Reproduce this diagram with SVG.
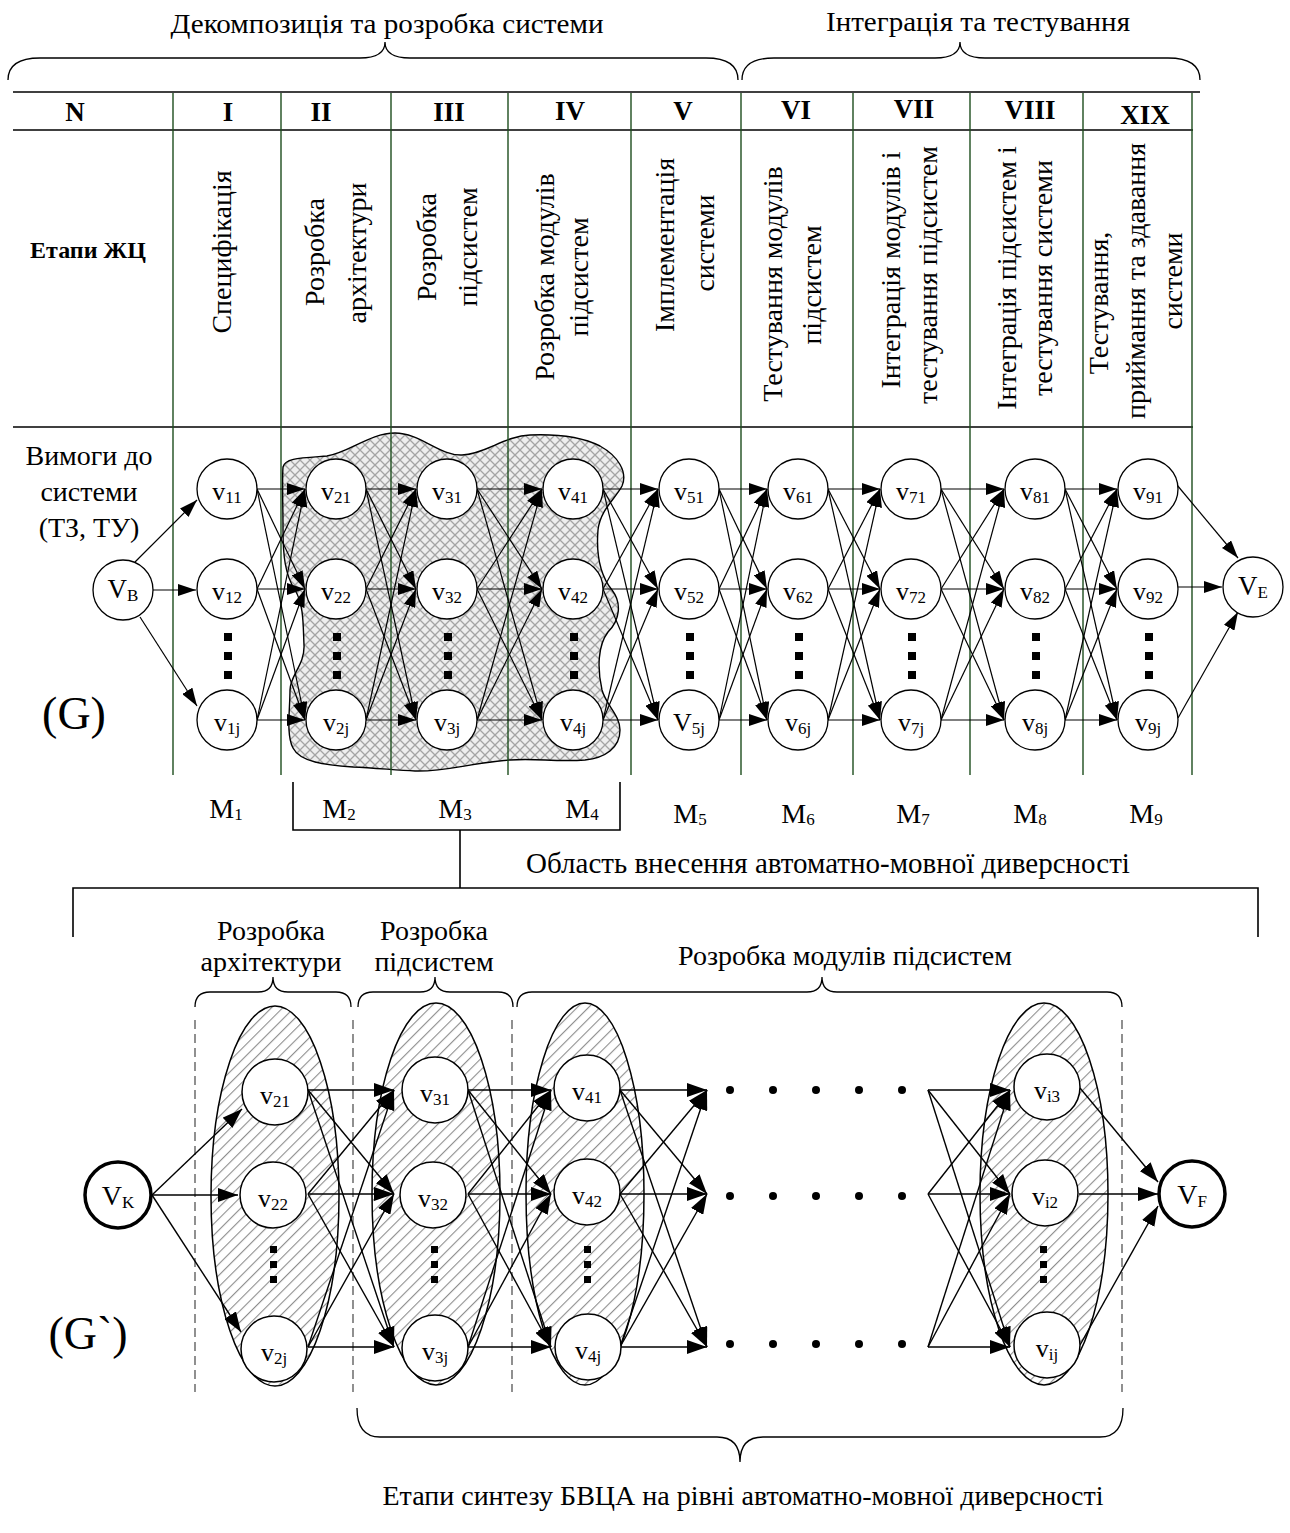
<svg xmlns="http://www.w3.org/2000/svg" width="1290" height="1533" viewBox="0 0 1290 1533">
<style>
text{font-family:"Liberation Serif","Times New Roman",serif;fill:#000}
.t{font-size:28px}
.tm{font-size:28px;text-anchor:middle}
.h{font-size:27px;font-weight:bold;text-anchor:middle}
.l{font-size:26px;text-anchor:middle}
.s{font-size:17px}
.hl{stroke:#000;stroke-width:1.6;fill:none}
.gl{stroke:#1d4d1d;stroke-width:1.4}
.e{stroke:#000;stroke-width:1.2;fill:none;marker-end:url(#ar)}
.e2{stroke:#000;stroke-width:1.4;fill:none;marker-end:url(#ar2)}
.n circle{fill:#fff;stroke:#000;stroke-width:1.3}
.n2 circle{fill:#fff;stroke:#000;stroke-width:1.5}
.nb circle{fill:#fff;stroke:#000;stroke-width:3.5}
.br{fill:none;stroke:#000;stroke-width:1.3}
.dl{stroke:#555;stroke-width:1.3;stroke-dasharray:9,5}
.el{fill:url(#hs);stroke:#000;stroke-width:1.5}
</style>
<defs>
<marker id="ar" markerWidth="18" markerHeight="12" refX="18" refY="6" orient="auto" markerUnits="userSpaceOnUse"><path d="M0,0 L18,6 L0,12 z" fill="#000"/></marker>
<marker id="ar2" markerWidth="20" markerHeight="14" refX="20" refY="7" orient="auto" markerUnits="userSpaceOnUse"><path d="M0,0 L20,7 L0,14 z" fill="#000"/></marker>
<pattern id="xh" width="10" height="10" patternUnits="userSpaceOnUse"><rect width="10" height="10" fill="#eeeeee"/><path d="M0,0L10,10M10,0L0,10" stroke="#a4a4a4" stroke-width="1.3"/></pattern>
<pattern id="hs" width="8" height="8" patternUnits="userSpaceOnUse" patternTransform="rotate(45)"><rect width="8" height="8" fill="#fff"/><line x1="0" y1="0" x2="0" y2="8" stroke="#8e8e8e" stroke-width="2.2"/></pattern>
</defs>

<!-- top braces -->
<g id="top-labels">
<text class="tm" x="387" y="33" textLength="433" lengthAdjust="spacingAndGlyphs">Декомпозиція та розробка системи</text>
<text class="tm" x="978" y="31" textLength="304" lengthAdjust="spacingAndGlyphs">Інтеграція та тестування</text>
<path class="br" d="M8,80 Q8,58 40,58 L360,58 Q385,58 385,42 Q385,58 410,58 L706,58 Q738,58 738,80"/>
<path class="br" d="M742,80 Q742,58 774,58 L935,58 Q960,58 960,42 Q960,58 985,58 L1168,58 Q1200,58 1200,80"/>
</g>

<!-- blob -->
<path id="blob" d="M283,467 C285,458 300,458 327,456 C350,452 370,433 395,433 C420,433 440,456 462,455 C485,454 505,436 530,435 C555,434 580,436 600,446 C618,456 628,472 622,486 C616,498 600,510 598,530 C596,555 600,575 612,590 C622,603 620,620 608,632 C598,645 597,668 602,690 C606,705 620,715 620,730 C620,748 605,758 585,760 C555,762 535,758 510,760 C470,763 445,772 415,771 C395,770 375,768 353,767 C325,765 300,762 293,748 C286,735 290,710 290,690 C290,675 305,665 304,645 C303,625 304,605 295,590 C285,575 283,555 283,530 C283,505 282,480 283,467 Z" fill="url(#xh)" stroke="#000" stroke-width="1.4"/>

<!-- table -->
<g id="table">
<line class="hl" x1="13" y1="92" x2="1200" y2="92"/>
<line class="hl" x1="13" y1="130" x2="1193" y2="130"/>
<line class="hl" x1="13" y1="427" x2="1193" y2="427"/>
<line class="gl" x1="173" y1="93" x2="173" y2="775"/>
<line class="gl" x1="281" y1="93" x2="281" y2="775"/>
<line class="gl" x1="391" y1="93" x2="391" y2="775"/>
<line class="gl" x1="508" y1="93" x2="508" y2="775"/>
<line class="gl" x1="631" y1="93" x2="631" y2="775"/>
<line class="gl" x1="741" y1="93" x2="741" y2="775"/>
<line class="gl" x1="853" y1="93" x2="853" y2="775"/>
<line class="gl" x1="970" y1="93" x2="970" y2="775"/>
<line class="gl" x1="1083" y1="93" x2="1083" y2="775"/>
<line class="gl" x1="1192" y1="93" x2="1192" y2="775"/>
<text class="h" x="75" y="121">N</text>
<text class="h" x="228" y="121">I</text>
<text class="h" x="321" y="121">II</text>
<text class="h" x="449" y="121">III</text>
<text class="h" x="570" y="120">IV</text>
<text class="h" x="683" y="120">V</text>
<text class="h" x="796" y="119">VI</text>
<text class="h" x="914" y="118">VII</text>
<text class="h" x="1030" y="119">VIII</text>
<text class="h" x="1145" y="124">XIX</text>
<text x="88" y="258" style="font-size:24px;font-weight:bold;text-anchor:middle">Етапи ЖЦ</text>
<text class="tm" transform="translate(231,252) rotate(-90)">Специфікація</text>
<text class="tm" transform="translate(324,252) rotate(-90)">Розробка</text>
<text class="tm" transform="translate(366,253) rotate(-90)">архітектури</text>
<text class="tm" transform="translate(436,247) rotate(-90)">Розробка</text>
<text class="tm" transform="translate(477,247) rotate(-90)">підсистем</text>
<text class="tm" transform="translate(554,277) rotate(-90)">Розробка модулів</text>
<text class="tm" transform="translate(588,277) rotate(-90)">підсистем</text>
<text class="tm" transform="translate(674,245) rotate(-90)">Імплементація</text>
<text class="tm" transform="translate(714,243) rotate(-90)">системи</text>
<text class="tm" transform="translate(782,284) rotate(-90)">Тестування модулів</text>
<text class="tm" transform="translate(821,285) rotate(-90)">підсистем</text>
<text class="tm" transform="translate(900,270) rotate(-90)">Інтеграція модулів і</text>
<text class="tm" transform="translate(937,275) rotate(-90)">тестування підсистем</text>
<text class="tm" transform="translate(1016,278) rotate(-90)">Інтеграція підсистем і</text>
<text class="tm" transform="translate(1052,278) rotate(-90)">тестування системи</text>
<text class="tm" transform="translate(1108,303) rotate(-90)">Тестування,</text>
<text class="tm" transform="translate(1145,281) rotate(-90)">приймання та здавання</text>
<text class="tm" transform="translate(1182,281) rotate(-90)">системи</text>
</g>

<g id="req-label">
<text class="tm" x="89" y="465">Вимоги до</text>
<text class="tm" x="89" y="501">системи</text>
<text class="tm" x="89" y="537">(ТЗ, ТУ)</text>
<text x="74" y="729" style="font-size:46px;text-anchor:middle">(G)</text>
</g>

<!-- connectors G -->
<g id="edges-G">
<line class="e" x1="135" y1="562" x2="197" y2="500"/>
<line class="e" x1="153" y1="590" x2="196" y2="590"/>
<line class="e" x1="140" y1="617" x2="197" y2="706"/>

<line class="e" x1="257" y1="489" x2="305" y2="489"/>
<line class="e" x1="257" y1="489" x2="305" y2="589"/>
<line class="e" x1="257" y1="489" x2="305" y2="720"/>
<line class="e" x1="257" y1="589" x2="305" y2="489"/>
<line class="e" x1="257" y1="589" x2="305" y2="589"/>
<line class="e" x1="257" y1="589" x2="305" y2="720"/>
<line class="e" x1="257" y1="720" x2="305" y2="489"/>
<line class="e" x1="257" y1="720" x2="305" y2="589"/>
<line class="e" x1="257" y1="720" x2="305" y2="720"/>

<line class="e" x1="366" y1="489" x2="416" y2="489"/>
<line class="e" x1="366" y1="489" x2="416" y2="589"/>
<line class="e" x1="366" y1="489" x2="416" y2="720"/>
<line class="e" x1="366" y1="589" x2="416" y2="489"/>
<line class="e" x1="366" y1="589" x2="416" y2="589"/>
<line class="e" x1="366" y1="589" x2="416" y2="720"/>
<line class="e" x1="366" y1="720" x2="416" y2="489"/>
<line class="e" x1="366" y1="720" x2="416" y2="589"/>
<line class="e" x1="366" y1="720" x2="416" y2="720"/>

<line class="e" x1="477" y1="489" x2="542" y2="489"/>
<line class="e" x1="477" y1="489" x2="542" y2="589"/>
<line class="e" x1="477" y1="489" x2="542" y2="720"/>
<line class="e" x1="477" y1="589" x2="542" y2="489"/>
<line class="e" x1="477" y1="589" x2="542" y2="589"/>
<line class="e" x1="477" y1="589" x2="542" y2="720"/>
<line class="e" x1="477" y1="720" x2="542" y2="489"/>
<line class="e" x1="477" y1="720" x2="542" y2="589"/>
<line class="e" x1="477" y1="720" x2="542" y2="720"/>

<line class="e" x1="603" y1="489" x2="658" y2="489"/>
<line class="e" x1="603" y1="489" x2="658" y2="589"/>
<line class="e" x1="603" y1="489" x2="658" y2="720"/>
<line class="e" x1="603" y1="589" x2="658" y2="489"/>
<line class="e" x1="603" y1="589" x2="658" y2="589"/>
<line class="e" x1="603" y1="589" x2="658" y2="720"/>
<line class="e" x1="603" y1="720" x2="658" y2="489"/>
<line class="e" x1="603" y1="720" x2="658" y2="589"/>
<line class="e" x1="603" y1="720" x2="658" y2="720"/>

<line class="e" x1="719" y1="489" x2="767" y2="489"/>
<line class="e" x1="719" y1="489" x2="767" y2="589"/>
<line class="e" x1="719" y1="489" x2="767" y2="720"/>
<line class="e" x1="719" y1="589" x2="767" y2="489"/>
<line class="e" x1="719" y1="589" x2="767" y2="589"/>
<line class="e" x1="719" y1="589" x2="767" y2="720"/>
<line class="e" x1="719" y1="720" x2="767" y2="489"/>
<line class="e" x1="719" y1="720" x2="767" y2="589"/>
<line class="e" x1="719" y1="720" x2="767" y2="720"/>

<line class="e" x1="828" y1="489" x2="880" y2="489"/>
<line class="e" x1="828" y1="489" x2="880" y2="589"/>
<line class="e" x1="828" y1="489" x2="880" y2="720"/>
<line class="e" x1="828" y1="589" x2="880" y2="489"/>
<line class="e" x1="828" y1="589" x2="880" y2="589"/>
<line class="e" x1="828" y1="589" x2="880" y2="720"/>
<line class="e" x1="828" y1="720" x2="880" y2="489"/>
<line class="e" x1="828" y1="720" x2="880" y2="589"/>
<line class="e" x1="828" y1="720" x2="880" y2="720"/>

<line class="e" x1="941" y1="489" x2="1004" y2="489"/>
<line class="e" x1="941" y1="489" x2="1004" y2="589"/>
<line class="e" x1="941" y1="489" x2="1004" y2="720"/>
<line class="e" x1="941" y1="589" x2="1004" y2="489"/>
<line class="e" x1="941" y1="589" x2="1004" y2="589"/>
<line class="e" x1="941" y1="589" x2="1004" y2="720"/>
<line class="e" x1="941" y1="720" x2="1004" y2="489"/>
<line class="e" x1="941" y1="720" x2="1004" y2="589"/>
<line class="e" x1="941" y1="720" x2="1004" y2="720"/>

<line class="e" x1="1065" y1="489" x2="1117" y2="489"/>
<line class="e" x1="1065" y1="489" x2="1117" y2="589"/>
<line class="e" x1="1065" y1="489" x2="1117" y2="720"/>
<line class="e" x1="1065" y1="589" x2="1117" y2="489"/>
<line class="e" x1="1065" y1="589" x2="1117" y2="589"/>
<line class="e" x1="1065" y1="589" x2="1117" y2="720"/>
<line class="e" x1="1065" y1="720" x2="1117" y2="489"/>
<line class="e" x1="1065" y1="720" x2="1117" y2="589"/>
<line class="e" x1="1065" y1="720" x2="1117" y2="720"/>

<line class="e" x1="1177" y1="485" x2="1238" y2="558"/>
<line class="e" x1="1178" y1="587" x2="1222" y2="587"/>
<line class="e" x1="1178" y1="718" x2="1238" y2="612"/>
</g>

<!-- nodes G -->
<g id="VB" class="n"><circle cx="123" cy="590" r="30"/><text x="123" y="598" style="font-size:27px;text-anchor:middle">V<tspan class="s" dy="3">B</tspan></text></g>
<g id="VE" class="n"><circle cx="1253" cy="587" r="30"/><text x="1253" y="595" style="font-size:27px;text-anchor:middle">V<tspan class="s" dy="3">E</tspan></text></g>

<g id="v11" class="n"><circle cx="227" cy="489" r="30"/><text class="l" x="227" y="500">v<tspan class="s" dy="3">11</tspan></text></g>
<g id="v12" class="n"><circle cx="227" cy="589" r="30"/><text class="l" x="227" y="600">v<tspan class="s" dy="3">12</tspan></text></g>
<g id="v1j" class="n"><circle cx="227" cy="720" r="30"/><text class="l" x="227" y="731">v<tspan class="s" dy="3">1j</tspan></text></g>
<g id="v21" class="n"><circle cx="336" cy="489" r="30"/><text class="l" x="336" y="500">v<tspan class="s" dy="3">21</tspan></text></g>
<g id="v22" class="n"><circle cx="336" cy="589" r="30"/><text class="l" x="336" y="600">v<tspan class="s" dy="3">22</tspan></text></g>
<g id="v2j" class="n"><circle cx="336" cy="720" r="30"/><text class="l" x="336" y="731">v<tspan class="s" dy="3">2j</tspan></text></g>
<g id="v31" class="n"><circle cx="447" cy="489" r="30"/><text class="l" x="447" y="500">v<tspan class="s" dy="3">31</tspan></text></g>
<g id="v32" class="n"><circle cx="447" cy="589" r="30"/><text class="l" x="447" y="600">v<tspan class="s" dy="3">32</tspan></text></g>
<g id="v3j" class="n"><circle cx="447" cy="720" r="30"/><text class="l" x="447" y="731">v<tspan class="s" dy="3">3j</tspan></text></g>
<g id="v41" class="n"><circle cx="573" cy="489" r="30"/><text class="l" x="573" y="500">v<tspan class="s" dy="3">41</tspan></text></g>
<g id="v42" class="n"><circle cx="573" cy="589" r="30"/><text class="l" x="573" y="600">v<tspan class="s" dy="3">42</tspan></text></g>
<g id="v4j" class="n"><circle cx="573" cy="720" r="30"/><text class="l" x="573" y="731">v<tspan class="s" dy="3">4j</tspan></text></g>
<g id="v51" class="n"><circle cx="689" cy="489" r="30"/><text class="l" x="689" y="500">v<tspan class="s" dy="3">51</tspan></text></g>
<g id="v52" class="n"><circle cx="689" cy="589" r="30"/><text class="l" x="689" y="600">v<tspan class="s" dy="3">52</tspan></text></g>
<g id="v5j" class="n"><circle cx="689" cy="720" r="30"/><text class="l" x="689" y="731">V<tspan class="s" dy="3">5j</tspan></text></g>
<g id="v61" class="n"><circle cx="798" cy="489" r="30"/><text class="l" x="798" y="500">v<tspan class="s" dy="3">61</tspan></text></g>
<g id="v62" class="n"><circle cx="798" cy="589" r="30"/><text class="l" x="798" y="600">v<tspan class="s" dy="3">62</tspan></text></g>
<g id="v6j" class="n"><circle cx="798" cy="720" r="30"/><text class="l" x="798" y="731">v<tspan class="s" dy="3">6j</tspan></text></g>
<g id="v71" class="n"><circle cx="911" cy="489" r="30"/><text class="l" x="911" y="500">v<tspan class="s" dy="3">71</tspan></text></g>
<g id="v72" class="n"><circle cx="911" cy="589" r="30"/><text class="l" x="911" y="600">v<tspan class="s" dy="3">72</tspan></text></g>
<g id="v7j" class="n"><circle cx="911" cy="720" r="30"/><text class="l" x="911" y="731">v<tspan class="s" dy="3">7j</tspan></text></g>
<g id="v81" class="n"><circle cx="1035" cy="489" r="30"/><text class="l" x="1035" y="500">v<tspan class="s" dy="3">81</tspan></text></g>
<g id="v82" class="n"><circle cx="1035" cy="589" r="30"/><text class="l" x="1035" y="600">v<tspan class="s" dy="3">82</tspan></text></g>
<g id="v8j" class="n"><circle cx="1035" cy="720" r="30"/><text class="l" x="1035" y="731">v<tspan class="s" dy="3">8j</tspan></text></g>
<g id="v91" class="n"><circle cx="1148" cy="489" r="30"/><text class="l" x="1148" y="500">v<tspan class="s" dy="3">91</tspan></text></g>
<g id="v92" class="n"><circle cx="1148" cy="589" r="30"/><text class="l" x="1148" y="600">v<tspan class="s" dy="3">92</tspan></text></g>
<g id="v9j" class="n"><circle cx="1148" cy="720" r="30"/><text class="l" x="1148" y="731">v<tspan class="s" dy="3">9j</tspan></text></g>

<g id="dots-G" fill="#000">
<rect x="224" y="633" width="8" height="8"/><rect x="224" y="652" width="8" height="8"/><rect x="224" y="671" width="8" height="8"/>
<rect x="333" y="633" width="8" height="8"/><rect x="333" y="652" width="8" height="8"/><rect x="333" y="671" width="8" height="8"/>
<rect x="444" y="633" width="8" height="8"/><rect x="444" y="652" width="8" height="8"/><rect x="444" y="671" width="8" height="8"/>
<rect x="570" y="633" width="8" height="8"/><rect x="570" y="652" width="8" height="8"/><rect x="570" y="671" width="8" height="8"/>
<rect x="686" y="633" width="8" height="8"/><rect x="686" y="652" width="8" height="8"/><rect x="686" y="671" width="8" height="8"/>
<rect x="795" y="633" width="8" height="8"/><rect x="795" y="652" width="8" height="8"/><rect x="795" y="671" width="8" height="8"/>
<rect x="908" y="633" width="8" height="8"/><rect x="908" y="652" width="8" height="8"/><rect x="908" y="671" width="8" height="8"/>
<rect x="1032" y="633" width="8" height="8"/><rect x="1032" y="652" width="8" height="8"/><rect x="1032" y="671" width="8" height="8"/>
<rect x="1145" y="633" width="8" height="8"/><rect x="1145" y="652" width="8" height="8"/><rect x="1145" y="671" width="8" height="8"/>
</g>

<g id="M-labels">
<text class="tm" x="226" y="818">M<tspan class="s" dy="2">1</tspan></text>
<text class="tm" x="339" y="818">M<tspan class="s" dy="2">2</tspan></text>
<text class="tm" x="455" y="818">M<tspan class="s" dy="2">3</tspan></text>
<text class="tm" x="582" y="818">M<tspan class="s" dy="2">4</tspan></text>
<text class="tm" x="690" y="823">M<tspan class="s" dy="2">5</tspan></text>
<text class="tm" x="798" y="823">M<tspan class="s" dy="2">6</tspan></text>
<text class="tm" x="913" y="823">M<tspan class="s" dy="2">7</tspan></text>
<text class="tm" x="1030" y="823">M<tspan class="s" dy="2">8</tspan></text>
<text class="tm" x="1146" y="823">M<tspan class="s" dy="2">9</tspan></text>
</g>

<g id="region-bracket">
<path class="hl" d="M293,782 L293,830 L620,830 L620,782 M460,830 L460,888 M73,937 L73,888 L1258,888 L1258,937"/>
<text class="tm" x="828" y="873" style="font-size:29px">Область внесення автоматно-мовної диверсності</text>
</g>

<!-- G' -->
<g id="G2-stage-labels">
<text class="tm" x="271" y="940">Розробка</text>
<text class="tm" x="271" y="971">архітектури</text>
<text class="tm" x="434" y="940">Розробка</text>
<text class="tm" x="434" y="971">підсистем</text>
<text class="tm" x="845" y="965">Розробка модулів підсистем</text>
<path class="br" d="M195,1007 Q195,992 210,992 L258,992 Q273,992 273,977 Q273,992 288,992 L336,992 Q351,992 351,1007"/>
<path class="br" d="M358,1007 Q358,992 373,992 L420,992 Q435,992 435,977 Q435,992 450,992 L498,992 Q513,992 513,1007"/>
<path class="br" d="M517,1007 Q517,992 532,992 L807,992 Q822,992 822,977 Q822,992 837,992 L1107,992 Q1122,992 1122,1007"/>
<path class="br" d="M357,1408 Q357,1437 380,1437 L717,1437 Q740,1437 740,1462 Q740,1437 763,1437 L1100,1437 Q1123,1437 1123,1408"/>
<text class="tm" x="743" y="1505">Етапи синтезу БВЦА на рівні автоматно-мовної диверсності</text>
<text x="88" y="1349" style="font-size:46px;text-anchor:middle">(G`)</text>
</g>

<g id="groups">
<ellipse class="el" cx="275" cy="1196" rx="64" ry="190"/>
<ellipse class="el" cx="436" cy="1194" rx="64" ry="191"/>
<ellipse class="el" cx="585" cy="1194" rx="59" ry="191"/>
<ellipse class="el" cx="1044" cy="1194" rx="64" ry="191"/>
<line class="dl" x1="195" y1="1020" x2="195" y2="1392"/>
<line class="dl" x1="353" y1="1020" x2="353" y2="1392"/>
<line class="dl" x1="512" y1="1020" x2="512" y2="1392"/>
<line class="dl" x1="1122" y1="1020" x2="1122" y2="1392"/>
</g>

<g id="edges-G2">
<line class="e2" x1="152" y1="1195" x2="242" y2="1109"/>
<line class="e2" x1="152" y1="1195" x2="238" y2="1195"/>
<line class="e2" x1="152" y1="1195" x2="241" y2="1332"/>

<line class="e2" x1="308" y1="1090" x2="394" y2="1090"/>
<line class="e2" x1="308" y1="1090" x2="394" y2="1194"/>
<line class="e2" x1="308" y1="1090" x2="394" y2="1347"/>
<line class="e2" x1="308" y1="1194" x2="394" y2="1090"/>
<line class="e2" x1="308" y1="1194" x2="394" y2="1194"/>
<line class="e2" x1="308" y1="1194" x2="394" y2="1347"/>
<line class="e2" x1="308" y1="1347" x2="394" y2="1090"/>
<line class="e2" x1="308" y1="1347" x2="394" y2="1194"/>
<line class="e2" x1="308" y1="1347" x2="394" y2="1347"/>

<line class="e2" x1="468" y1="1090" x2="551" y2="1090"/>
<line class="e2" x1="468" y1="1090" x2="551" y2="1194"/>
<line class="e2" x1="468" y1="1090" x2="551" y2="1347"/>
<line class="e2" x1="468" y1="1194" x2="551" y2="1090"/>
<line class="e2" x1="468" y1="1194" x2="551" y2="1194"/>
<line class="e2" x1="468" y1="1194" x2="551" y2="1347"/>
<line class="e2" x1="468" y1="1347" x2="551" y2="1090"/>
<line class="e2" x1="468" y1="1347" x2="551" y2="1194"/>
<line class="e2" x1="468" y1="1347" x2="551" y2="1347"/>

<line class="e2" x1="620" y1="1090" x2="707" y2="1090"/>
<line class="e2" x1="620" y1="1090" x2="707" y2="1194"/>
<line class="e2" x1="620" y1="1090" x2="707" y2="1347"/>
<line class="e2" x1="620" y1="1194" x2="707" y2="1090"/>
<line class="e2" x1="620" y1="1194" x2="707" y2="1194"/>
<line class="e2" x1="620" y1="1194" x2="707" y2="1347"/>
<line class="e2" x1="620" y1="1347" x2="707" y2="1090"/>
<line class="e2" x1="620" y1="1347" x2="707" y2="1194"/>
<line class="e2" x1="620" y1="1347" x2="707" y2="1347"/>

<line class="e2" x1="928" y1="1090" x2="1010" y2="1090"/>
<line class="e2" x1="928" y1="1090" x2="1010" y2="1194"/>
<line class="e2" x1="928" y1="1090" x2="1010" y2="1347"/>
<line class="e2" x1="928" y1="1194" x2="1010" y2="1090"/>
<line class="e2" x1="928" y1="1194" x2="1010" y2="1194"/>
<line class="e2" x1="928" y1="1194" x2="1010" y2="1347"/>
<line class="e2" x1="928" y1="1347" x2="1010" y2="1090"/>
<line class="e2" x1="928" y1="1347" x2="1010" y2="1194"/>
<line class="e2" x1="928" y1="1347" x2="1010" y2="1347"/>

<line class="e2" x1="1080" y1="1088" x2="1158" y2="1182"/>
<line class="e2" x1="1079" y1="1194" x2="1158" y2="1194"/>
<line class="e2" x1="1080" y1="1345" x2="1158" y2="1206"/>
</g>

<g id="dots-G2" fill="#000">
<circle cx="730" cy="1090" r="4"/><circle cx="773" cy="1090" r="4"/><circle cx="816" cy="1090" r="4"/><circle cx="859" cy="1090" r="4"/><circle cx="902" cy="1090" r="4"/>
<circle cx="730" cy="1196" r="4"/><circle cx="773" cy="1196" r="4"/><circle cx="816" cy="1196" r="4"/><circle cx="859" cy="1196" r="4"/><circle cx="902" cy="1196" r="4"/>
<circle cx="730" cy="1344" r="4"/><circle cx="773" cy="1344" r="4"/><circle cx="816" cy="1344" r="4"/><circle cx="859" cy="1344" r="4"/><circle cx="902" cy="1344" r="4"/>
</g>

<g id="VK" class="nb"><circle cx="118" cy="1195" r="33"/><text x="118" y="1205" style="font-size:28px;text-anchor:middle">V<tspan class="s" dy="3">K</tspan></text></g>
<g id="VF" class="nb"><circle cx="1192" cy="1194" r="33"/><text x="1192" y="1204" style="font-size:28px;text-anchor:middle">V<tspan class="s" dy="3">F</tspan></text></g>
<g id="g2v21" class="n2"><circle cx="275" cy="1092" r="33"/><text class="l" x="275" y="1104">v<tspan class="s" dy="3">21</tspan></text></g>
<g id="g2v22" class="n2"><circle cx="273" cy="1195" r="33"/><text class="l" x="273" y="1207">v<tspan class="s" dy="3">22</tspan></text></g>
<g id="g2v2j" class="n2"><circle cx="274" cy="1349" r="33"/><text class="l" x="274" y="1361">v<tspan class="s" dy="3">2j</tspan></text></g>
<g id="g2v31" class="n2"><circle cx="435" cy="1090" r="33"/><text class="l" x="435" y="1102">v<tspan class="s" dy="3">31</tspan></text></g>
<g id="g2v32" class="n2"><circle cx="433" cy="1195" r="33"/><text class="l" x="433" y="1207">v<tspan class="s" dy="3">32</tspan></text></g>
<g id="g2v3j" class="n2"><circle cx="435" cy="1348" r="33"/><text class="l" x="435" y="1360">v<tspan class="s" dy="3">3j</tspan></text></g>
<g id="g2v41" class="n2"><circle cx="587" cy="1088" r="33"/><text class="l" x="587" y="1100">v<tspan class="s" dy="3">41</tspan></text></g>
<g id="g2v42" class="n2"><circle cx="587" cy="1192" r="33"/><text class="l" x="587" y="1204">v<tspan class="s" dy="3">42</tspan></text></g>
<g id="g2v4j" class="n2"><circle cx="588" cy="1347" r="33"/><text class="l" x="588" y="1359">v<tspan class="s" dy="3">4j</tspan></text></g>
<g id="vi3" class="n2"><circle cx="1047" cy="1087" r="33"/><text class="l" x="1047" y="1099">v<tspan class="s" dy="3">i3</tspan></text></g>
<g id="vi2" class="n2"><circle cx="1045" cy="1193" r="33"/><text class="l" x="1045" y="1205">v<tspan class="s" dy="3">i2</tspan></text></g>
<g id="vij" class="n2"><circle cx="1047" cy="1345" r="33"/><text class="l" x="1047" y="1357">v<tspan class="s" dy="3">ij</tspan></text></g>

<g id="dots-G2-sq" fill="#000">
<rect x="270" y="1246" width="7" height="7"/><rect x="270" y="1261" width="7" height="7"/><rect x="270" y="1276" width="7" height="7"/>
<rect x="431" y="1246" width="7" height="7"/><rect x="431" y="1261" width="7" height="7"/><rect x="431" y="1276" width="7" height="7"/>
<rect x="584" y="1246" width="7" height="7"/><rect x="584" y="1261" width="7" height="7"/><rect x="584" y="1276" width="7" height="7"/>
<rect x="1040" y="1246" width="7" height="7"/><rect x="1040" y="1261" width="7" height="7"/><rect x="1040" y="1276" width="7" height="7"/>
</g>
</svg>
